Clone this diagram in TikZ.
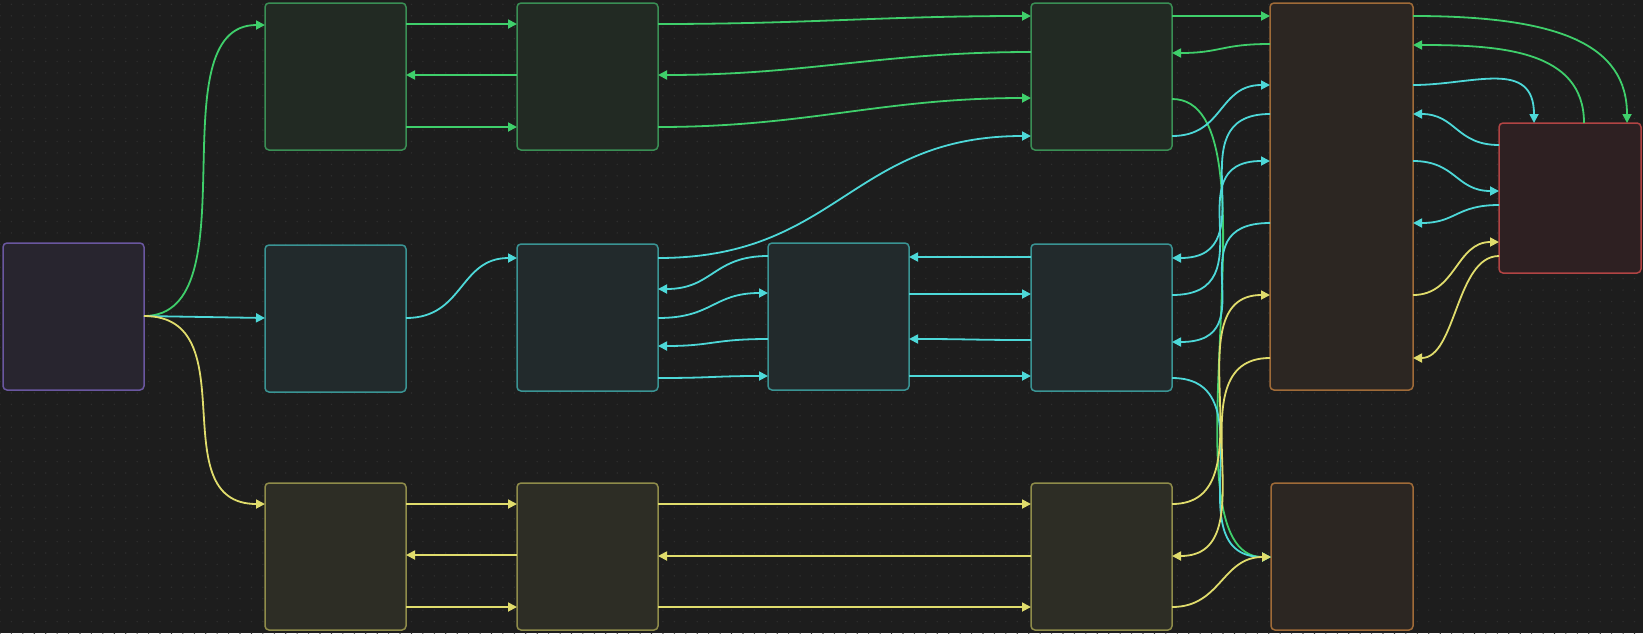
\documentclass[tikz,border=0pt]{standalone}
\usetikzlibrary{arrows.meta,patterns}
\definecolor{bgc}{HTML}{1D1D1D}
\definecolor{dotc}{HTML}{2E2E2E}
\definecolor{gE}{HTML}{3FCF6B}
\definecolor{cE}{HTML}{4DD8D8}
\definecolor{yE}{HTML}{E0DC6C}
\definecolor{gB}{HTML}{3A8F55}\definecolor{gF}{HTML}{222A23}
\definecolor{tB}{HTML}{3A9494}\definecolor{tF}{HTML}{222A2C}
\definecolor{yB}{HTML}{8F8C4A}\definecolor{yF}{HTML}{2D2D25}
\definecolor{pB}{HTML}{6A57A0}\definecolor{pF}{HTML}{28252F}
\definecolor{oB}{HTML}{A06B38}\definecolor{oF}{HTML}{2C2622}
\definecolor{rB}{HTML}{B24444}\definecolor{rF}{HTML}{2E2022}
\pgfdeclarepatternformonly{dotgrid}{\pgfpoint{-1pt}{-1pt}}{\pgfpoint{1pt}{1pt}}{\pgfpoint{11.43pt}{11.43pt}}{\pgfpathcircle{\pgfpointorigin}{0.8pt}\pgfusepath{fill}}
\tikzset{
  box/.style={rectangle, rounded corners=4pt, line width=1.5pt, anchor=north west,
    minimum width=141pt, minimum height=147pt, inner sep=0pt, outer sep=0pt},
  gbox/.style={box, draw=gB, fill=gF},
  tbox/.style={box, draw=tB, fill=tF},
  ybox/.style={box, draw=yB, fill=yF},
  pbox/.style={box, draw=pB, fill=pF},
  obox/.style={box, draw=oB, fill=oF},
  rbox/.style={box, draw=rB, fill=rF},
  edge/.style={line width=1.8pt, -{Triangle[length=9pt,width=9pt]}},
  ge/.style={edge, draw=gE},
  ce/.style={edge, draw=cE},
  ye/.style={edge, draw=yE},
}
\begin{document}
\begin{tikzpicture}[x=1pt,y=-1pt]
\useasboundingbox (0,0) rectangle (1643,633);
\fill[bgc] (0,0) rectangle (1643,633);
\fill[pattern=dotgrid, pattern color=dotc] (0,0) rectangle (1643,633);
% nodes
\node[pbox] (P) at (3,243) {};
\node[gbox] (G1) at (265,3) {};
\node[gbox] (G2) at (517,3) {};
\node[gbox] (G3) at (1031,3) {};
\node[tbox] (T1) at (265,245) {};
\node[tbox] (T2) at (517,244) {};
\node[tbox] (T3) at (768,243) {};
\node[tbox] (T4) at (1031,244) {};
\node[ybox] (Y1) at (265,483) {};
\node[ybox] (Y2) at (517,483) {};
\node[ybox] (Y3) at (1031,483) {};
\node[obox, minimum width=143pt, minimum height=387pt] (O1) at (1270,3) {};
\node[rbox, minimum width=142pt, minimum height=150pt] (R) at (1499,123) {};
\node[obox, minimum width=142pt] (O2) at (1271,483) {};
% green edges
\draw[ge] (P.east |- 0,316) .. controls +(110,0) and +(-110,0) .. (G1.west |- 0,25);
\draw[ge] (G1.east |- 0,24) -- (G2.west |- 0,24);
\draw[ge] (G2.west |- 0,75) -- (G1.east |- 0,75);
\draw[ge] (G1.east |- 0,127) -- (G2.west |- 0,127);
\draw[ge] (G2.east |- 0,24) .. controls +(150,0) and +(-150,0) .. (G3.west |- 0,16);
\draw[ge] (G3.west |- 0,52) .. controls +(-150,0) and +(150,0) .. (G2.east |- 0,75);
\draw[ge] (G2.east |- 0,127) .. controls +(150,0) and +(-150,0) .. (G3.west |- 0,98);
\draw[ge] (G3.east |- 0,16) -- (O1.west |- 0,16);
\draw[ge] (O1.west |- 0,44) .. controls +(-49,0) and +(49,0) .. (G3.east |- 0,53);
\draw[ge] (G3.east |- 0,99) .. controls +(115,0) and +(-115,0) .. (O2.west |- 0,557);
\draw[ge] (O1.east |- 0,16) .. controls +(147,0) and +(0,-78) .. (R.north -| 1627,0);
\draw[ge] (R.north -| 1584,0) .. controls +(0,-73) and +(87,0) .. (O1.east |- 0,45);
% cyan edges
\draw[ce] (P.east |- 0,316) -- (T1.west |- 0,318);
\draw[ce] (T1.east |- 0,318) .. controls +(58,0) and +(-58,0) .. (T2.west |- 0,258);
\draw[ce] (T2.east |- 0,258) .. controls +(180,0) and +(-180,0) .. (G3.west |- 0,136);
\draw[ce] (T3.west |- 0,256) .. controls +(-55,0) and +(55,0) .. (T2.east |- 0,289);
\draw[ce] (T2.east |- 0,318) .. controls +(55,0) and +(-55,0) .. (T3.west |- 0,293);
\draw[ce] (T3.west |- 0,339) .. controls +(-55,0) and +(55,0) .. (T2.east |- 0,346);
\draw[ce] (T2.east |- 0,378) .. controls +(55,0) and +(-55,0) .. (T3.west |- 0,376);
\draw[ce] (T4.west |- 0,257) .. controls +(-61,0) and +(61,0) .. (T3.east |- 0,257);
\draw[ce] (T3.east |- 0,294) .. controls +(61,0) and +(-61,0) .. (T4.west |- 0,294);
\draw[ce] (T4.west |- 0,340) .. controls +(-61,0) and +(61,0) .. (T3.east |- 0,339);
\draw[ce] (T3.east |- 0,376) .. controls +(61,0) and +(-61,0) .. (T4.west |- 0,376);
\draw[ce] (G3.east |- 0,136) .. controls +(52,0) and +(-52,0) .. (O1.west |- 0,85);
\draw[ce] (O1.west |- 0,114) .. controls +(-98,0) and +(98,0) .. (T4.east |- 0,258);
\draw[ce] (T4.east |- 0,295) .. controls +(98,0) and +(-98,0) .. (O1.west |- 0,161);
\draw[ce] (O1.west |- 0,223) .. controls +(-98,0) and +(98,0) .. (T4.east |- 0,342);
\draw[ce] (T4.east |- 0,378) .. controls +(100,0) and +(-100,0) .. (O2.west |- 0,557);
\draw[ce] (O1.east |- 0,85) .. controls +(60,0) and +(0,-65) .. (R.north -| 1534,0);
\draw[ce] (R.west |- 0,145) .. controls +(-43,0) and +(43,0) .. (O1.east |- 0,114);
\draw[ce] (O1.east |- 0,161) .. controls +(43,0) and +(-43,0) .. (R.west |- 0,191);
\draw[ce] (R.west |- 0,205) .. controls +(-43,0) and +(43,0) .. (O1.east |- 0,223);
% yellow edges
\draw[ye] (P.east |- 0,316) .. controls +(105,0) and +(-105,0) .. (Y1.west |- 0,504);
\draw[ye] (Y1.east |- 0,504) -- (Y2.west |- 0,504);
\draw[ye] (Y2.west |- 0,555) -- (Y1.east |- 0,555);
\draw[ye] (Y1.east |- 0,607) -- (Y2.west |- 0,607);
\draw[ye] (Y2.east |- 0,504) -- (Y3.west |- 0,504);
\draw[ye] (Y3.west |- 0,556) -- (Y2.east |- 0,556);
\draw[ye] (Y2.east |- 0,607) -- (Y3.west |- 0,607);
\draw[ye] (Y3.east |- 0,504) .. controls +(100,0) and +(-100,0) .. (O1.west |- 0,295);
\draw[ye] (O1.west |- 0,358) .. controls +(-100,0) and +(100,0) .. (Y3.east |- 0,556);
\draw[ye] (Y3.east |- 0,607) .. controls +(49,0) and +(-49,0) .. (O2.west |- 0,557);
\draw[ye] (O1.east |- 0,295) .. controls +(43,0) and +(-43,0) .. (R.west |- 0,242);
\draw[ye] (R.west |- 0,256) .. controls +(-43,0) and +(43,0) .. (O1.east |- 0,358);
\end{tikzpicture}
\end{document}
